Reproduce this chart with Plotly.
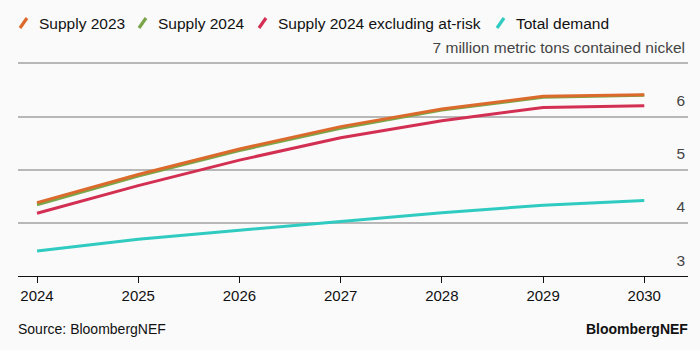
import plotly.graph_objects as go

years = [2024, 2025, 2026, 2027, 2028, 2029, 2030]
supply_2023 = [4.38, 4.91, 5.39, 5.81, 6.14, 6.38, 6.41]
supply_2024 = [4.34, 4.88, 5.36, 5.78, 6.12, 6.36, 6.40]
supply_2024_ex = [4.18, 4.70, 5.18, 5.60, 5.92, 6.17, 6.20]
total_demand = [3.47, 3.69, 3.86, 4.02, 4.19, 4.33, 4.42]

series_names = ["Supply 2023", "Supply 2024", "Supply 2024 excluding at-risk", "Total demand"]
series_values = [supply_2023, supply_2024, supply_2024_ex, total_demand]
colors = ["#dc6a2c", "#7aa548", "#d32f52", "#2fcbc1"]

y_tickvals = [3, 4, 5, 6, 7]
y_ticktext = ["3", "4", "5", "6", "7 million metric tons contained nickel"]

FONT = "Liberation Sans, Arial, sans-serif"
W, H = 700, 350
ML, MR, MT, MB = 18, 12, 62, 74
PW, PH = W - ML - MR, H - MT - MB


def px_x(x):
    return (x - ML) / PW


def px_y(y):
    return (H - MB - y) / PH


fig = go.Figure()

# draw order: green first so orange sits on top
draw_order = [1, 3, 2, 0]
for i in draw_order:
    fig.add_trace(go.Scatter(
        x=years, y=series_values[i], mode="lines",
        line=dict(color=colors[i], width=3),
        showlegend=False, name=series_names[i], hoverinfo="skip"))

# custom legend: slash + label
legend_text_x = [37, 156, 276, 514]
legend_y = 23
shapes = []
annotations = []
for i in range(4):
    tx = legend_text_x[i]
    shapes.append(dict(type="line", xref="paper", yref="paper",
                       x0=px_x(tx - 17), y0=px_y(legend_y + 5),
                       x1=px_x(tx - 10), y1=px_y(legend_y - 5),
                       line=dict(color=colors[i], width=3.2)))
    annotations.append(dict(text=series_names[i], x=px_x(tx), xref="paper",
                            xanchor="left", y=px_y(legend_y), yref="paper",
                            yanchor="middle", showarrow=False,
                            font=dict(size=15.5, color="#111111")))

annotations.append(dict(text="Source: BloombergNEF", x=px_x(16), xref="paper",
                        xanchor="left", y=px_y(329), yref="paper", yanchor="middle",
                        showarrow=False, font=dict(size=14)))
annotations.append(dict(text="<b>BloombergNEF</b>", x=px_x(690), xref="paper",
                        xanchor="right", y=px_y(329), yref="paper", yanchor="middle",
                        showarrow=False, font=dict(size=14)))

fig.update_layout(
    width=W, height=H,
    margin=dict(l=ML, r=MR, t=MT, b=MB),
    paper_bgcolor="#fafafa", plot_bgcolor="#fafafa",
    font=dict(family=FONT, size=15, color="#111111"),
    showlegend=False,
    xaxis=dict(range=[2023.812, 2030.432], tickvals=years,
               ticktext=[str(y) for y in years],
               showgrid=False, zeroline=False, showline=True,
               linecolor="#111111", linewidth=1,
               ticks="outside", ticklen=6, tickcolor="#111111", tickwidth=1,
               tickfont=dict(size=15)),
    yaxis=dict(range=[3, 7.025], side="right", tickvals=y_tickvals, ticktext=y_ticktext,
               ticklabelposition="inside top", ticklabeloverflow="allow",
               ticklabelshift=-5,
               showgrid=True, gridcolor="#b8b8b8", gridwidth=1.5,
               zeroline=False, showline=False, ticks="",
               tickfont=dict(size=15.5)),
    shapes=shapes,
    annotations=annotations,
)

fig.write_html("out.html")
